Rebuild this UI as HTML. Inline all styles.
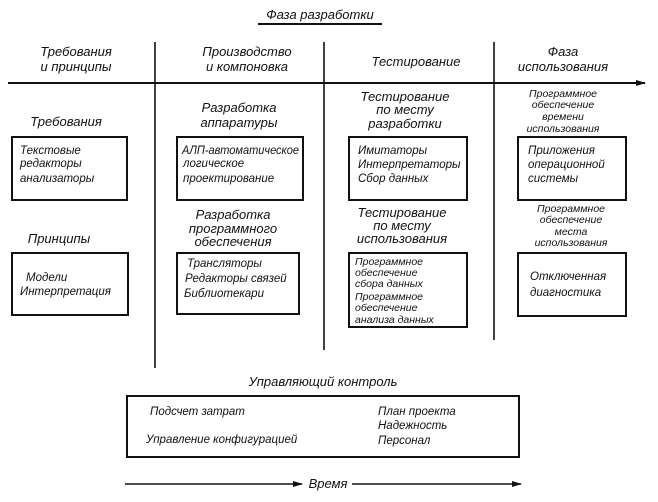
<!DOCTYPE html>
<html><head><meta charset="utf-8"><style>
html,body{margin:0;padding:0;background:#fff;}
svg{display:block;}
text{font-family:"Liberation Sans","DejaVu Sans",sans-serif;font-style:italic;fill:#111;}
.h{font-size:13px;}
.t{font-size:11.5px;}
.s{font-size:10.5px;}
</style></head><body>
<svg width="658" height="502" viewBox="0 0 658 502" xmlns="http://www.w3.org/2000/svg">
<defs><marker id="a" markerWidth="10" markerHeight="8" refX="9" refY="4" orient="auto" markerUnits="userSpaceOnUse"><path d="M0,1 L10,4 L0,7 Z" fill="#111"/></marker></defs>
<g stroke="#111" fill="none">
<line x1="258" y1="24" x2="382" y2="24" stroke-width="2"/>
<line x1="155" y1="42" x2="155" y2="368" stroke-width="1.6"/>
<line x1="324" y1="42" x2="324" y2="350" stroke-width="1.6"/>
<line x1="494" y1="42" x2="494" y2="340" stroke-width="1.6"/>
<line x1="8" y1="83" x2="645" y2="83" stroke-width="2" marker-end="url(#a)"/>
<rect x="12" y="137" width="115" height="63" stroke-width="2"/>
<rect x="177" y="137" width="126" height="63" stroke-width="2"/>
<rect x="349" y="137" width="118" height="63" stroke-width="2"/>
<rect x="518" y="137" width="108" height="63" stroke-width="2"/>
<rect x="12" y="253" width="116" height="62" stroke-width="2"/>
<rect x="177" y="253" width="122" height="61" stroke-width="2"/>
<rect x="349" y="253" width="118" height="74" stroke-width="2"/>
<rect x="518" y="253" width="108" height="63" stroke-width="2"/>
<rect x="127" y="396" width="392" height="61" stroke-width="2"/>
<line x1="125" y1="484" x2="302" y2="484" stroke-width="1.5" marker-end="url(#a)"/>
<line x1="352" y1="484" x2="521" y2="484" stroke-width="1.5" marker-end="url(#a)"/>
</g>
<text class="h" x="320" y="19" text-anchor="middle">Фаза разработки</text>
<g class="h" text-anchor="middle">
<text x="76" y="56">Требования</text><text x="76" y="71">и принципы</text>
<text x="247" y="56">Производство</text><text x="247" y="71">и компоновка</text>
<text x="416" y="66">Тестирование</text>
<text x="563" y="56">Фаза</text><text x="563" y="71">использования</text>
<text x="66" y="126">Требования</text>
<text x="239" y="112">Разработка</text><text x="239" y="127">аппаратуры</text>
<text x="405" y="101">Тестирование</text><text x="405" y="114">по месту</text><text x="405" y="128">разработки</text>
<text x="59" y="243">Принципы</text>
<text x="233" y="219">Разработка</text><text x="233" y="233">программного</text><text x="233" y="246">обеспечения</text>
<text x="402" y="217">Тестирование</text><text x="402" y="230">по месту</text><text x="402" y="243">использования</text>
<text x="323" y="386">Управляющий контроль</text>
<text x="328" y="488">Время</text>
</g>
<g class="s" text-anchor="middle">
<text x="563" y="97">Программное</text><text x="563" y="108">обеспечение</text><text x="563" y="120">времени</text><text x="563" y="132">использования</text>
<text x="571" y="212">Программное</text><text x="571" y="223">обеспечение</text><text x="571" y="235">места</text><text x="571" y="246">использования</text>
</g>
<g class="t">
<text x="20" y="154">Текстовые</text><text x="20" y="167">редакторы</text><text x="20" y="182">анализаторы</text>
<text x="182" y="154" textLength="117" lengthAdjust="spacingAndGlyphs">АЛП-автоматическое</text><text x="183" y="167">логическое</text><text x="183" y="182">проектирование</text>
<text x="358" y="154">Имитаторы</text><text x="358" y="168">Интерпретаторы</text><text x="358" y="182">Сбор данных</text>
<text x="528" y="154">Приложения</text><text x="528" y="168">операционной</text><text x="528" y="182">системы</text>
<text x="26" y="281">Модели</text><text x="20" y="295">Интерпретация</text>
<text x="187" y="267">Трансляторы</text><text x="185" y="282">Редакторы связей</text><text x="184" y="297">Библиотекари</text>
<text x="530" y="280">Отключенная</text><text x="530" y="296">диагностика</text>
<text x="150" y="415">Подсчет затрат</text>
<text x="146" y="443">Управление конфигурацией</text>
<text x="378" y="415">План проекта</text><text x="378" y="429">Надежность</text><text x="378" y="444">Персонал</text>
</g>
<g class="s">
<text x="355" y="265">Программное</text><text x="355" y="276">обеспечение</text><text x="355" y="287">сбора данных</text>
<text x="355" y="300">Программное</text><text x="355" y="311">обеспечение</text><text x="355" y="323">анализа данных</text>
</g>
</svg>
</body></html>
